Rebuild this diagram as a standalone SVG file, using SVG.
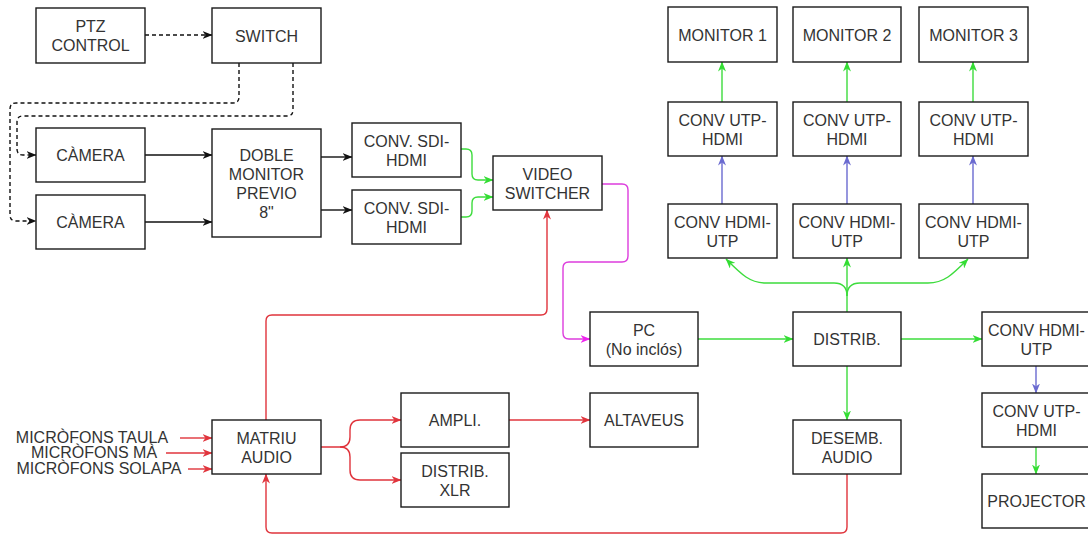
<svg xmlns="http://www.w3.org/2000/svg" width="1088" height="535" viewBox="0 0 1088 535">
<defs>
<style>
.box{fill:#fff;stroke:#1a1a1a;stroke-width:1.4}
.t{font-family:"Liberation Sans",Arial,sans-serif;font-size:16px;fill:#333;text-anchor:middle}
.e{fill:none;stroke-width:1.4}
.k{stroke:#111}
.d{stroke:#111;stroke-dasharray:4 3}
.r{stroke:#e0343c}
.g{stroke:#3ddc3d}
.b{stroke:#6a6ad0}
.m{stroke:#dd3ddd}
</style>
<marker id="ak" viewBox="0 0 10 8" markerWidth="10" markerHeight="8" refX="9.5" refY="4" orient="auto" markerUnits="userSpaceOnUse"><path d="M0,0 L10,4 L0,8 L3,4 z" fill="#111"/></marker>
<marker id="ar" viewBox="0 0 10 8" markerWidth="10" markerHeight="8" refX="9.5" refY="4" orient="auto" markerUnits="userSpaceOnUse"><path d="M0,0 L10,4 L0,8 L3,4 z" fill="#e0343c"/></marker>
<marker id="ag" viewBox="0 0 10 8" markerWidth="10" markerHeight="8" refX="9.5" refY="4" orient="auto" markerUnits="userSpaceOnUse"><path d="M0,0 L10,4 L0,8 L3,4 z" fill="#33dd33"/></marker>
<marker id="ab" viewBox="0 0 10 8" markerWidth="10" markerHeight="8" refX="9.5" refY="4" orient="auto" markerUnits="userSpaceOnUse"><path d="M0,0 L10,4 L0,8 L3,4 z" fill="#6a6ad0"/></marker>
<marker id="am" viewBox="0 0 10 8" markerWidth="10" markerHeight="8" refX="9.5" refY="4" orient="auto" markerUnits="userSpaceOnUse"><path d="M0,0 L10,4 L0,8 L3,4 z" fill="#ee22ee"/></marker>
</defs>
<rect width="1088" height="535" fill="#fff"/>

<g id="connectors">
<path class="e d" d="M145,35 H212" marker-end="url(#ak)"/>
<path class="e d" d="M239,63 V97 Q239,103 233,103 H16 Q10,103 10,109 V215 Q10,221 16,221 H36" marker-end="url(#ak)"/>
<path class="e d" d="M293,63 V110 Q293,116 287,116 H23 Q17,116 17,122 V149 Q17,155 23,155 H36" marker-end="url(#ak)"/>
<path class="e k" d="M145,155 H212" marker-end="url(#ak)"/>
<path class="e k" d="M145,222 H212" marker-end="url(#ak)"/>
<path class="e k" d="M321,157 H352" marker-end="url(#ak)"/>
<path class="e k" d="M321,210 H352" marker-end="url(#ak)"/>
<path class="e g" d="M461,149 H466 Q472,149 472,155 V174 Q472,180 478,180 H493" marker-end="url(#ag)"/>
<path class="e g" d="M461,217 H466 Q472,217 472,211 V203 Q472,197 478,197 H493" marker-end="url(#ag)"/>
<path class="e m" d="M602,184 H622 Q628,184 628,190 V256 Q628,262 622,262 H569 Q563,262 563,268 V333 Q563,339 569,339 H590" marker-end="url(#am)"/>
<path class="e g" d="M698,339 H793" marker-end="url(#ag)"/>
<path class="e g" d="M901,339 H982" marker-end="url(#ag)"/>
<path class="e g" d="M847,366 V420" marker-end="url(#ag)"/>
<path class="e g" d="M847,312 V258" marker-end="url(#ag)"/>
<path class="e g" d="M847,296 Q847,283 834,283 H766 C750,283 742,275 726,259" marker-end="url(#ag)"/>
<path class="e g" d="M847,296 Q847,283 860,283 H928 C944,283 952,275 968,259" marker-end="url(#ag)"/>
<path class="e b" d="M722,204 V156" marker-end="url(#ab)"/>
<path class="e b" d="M847,204 V156" marker-end="url(#ab)"/>
<path class="e b" d="M973,204 V156" marker-end="url(#ab)"/>
<path class="e g" d="M722,102 V62" marker-end="url(#ag)"/>
<path class="e g" d="M847,102 V62" marker-end="url(#ag)"/>
<path class="e g" d="M973,102 V62" marker-end="url(#ag)"/>
<path class="e b" d="M1036,366 V393" marker-end="url(#ab)"/>
<path class="e g" d="M1036,447 V474" marker-end="url(#ag)"/>
<path class="e r" d="M266,420 V321 Q266,315 272,315 H541 Q547,315 547,309 V210" marker-end="url(#ar)"/>
<path class="e r" d="M180,438 H212" marker-end="url(#ar)"/>
<path class="e r" d="M166,453 H212" marker-end="url(#ar)"/>
<path class="e r" d="M188,469 H212" marker-end="url(#ar)"/>
<path class="e r" d="M321,447 H340 Q350,447 350,437 V430 Q350,420 360,420 H401" marker-end="url(#ar)"/>
<path class="e r" d="M340,447 Q350,447 350,457 V470 Q350,480 360,480 H401" marker-end="url(#ar)"/>
<path class="e r" d="M509,420 H590" marker-end="url(#ar)"/>
<path class="e r" d="M847,474 V527 Q847,533 841,533 H272 Q266,533 266,527 V474" marker-end="url(#ar)"/>
</g>

<g id="mics">
<text class="t" x="92" y="443">MICRÒFONS TAULA</text>
<text class="t" x="94" y="458">MICRÒFONS MÀ</text>
<text class="t" x="99" y="474">MICRÒFONS SOLAPA</text>
</g>

<g id="ptz"><rect class="box" x="36" y="8" width="109" height="55"/><text class="t" x="90.5" y="32">PTZ</text><text class="t" x="90.5" y="51">CONTROL</text></g>
<g id="switch"><rect class="box" x="212" y="8" width="109" height="55"/><text class="t" x="266.5" y="41.5">SWITCH</text></g>
<g id="camera1"><rect class="box" x="36" y="128" width="109" height="54"/><text class="t" x="90.5" y="161">CÀMERA</text></g>
<g id="camera2"><rect class="box" x="36" y="195" width="109" height="54"/><text class="t" x="90.5" y="228">CÀMERA</text></g>
<g id="doble"><rect class="box" x="212" y="129" width="109" height="108"/><text class="t" x="266.5" y="161">DOBLE</text><text class="t" x="266.5" y="180">MONITOR</text><text class="t" x="266.5" y="199">PREVIO</text><text class="t" x="266.5" y="218">8"</text></g>
<g id="sdi1"><rect class="box" x="352" y="123" width="109" height="54"/><text class="t" x="406.5" y="146.5">CONV. SDI-</text><text class="t" x="406.5" y="165.5">HDMI</text></g>
<g id="sdi2"><rect class="box" x="352" y="190" width="109" height="54"/><text class="t" x="406.5" y="213.5">CONV. SDI-</text><text class="t" x="406.5" y="232.5">HDMI</text></g>
<g id="videoswitcher"><rect class="box" x="493" y="156" width="109" height="54"/><text class="t" x="547.5" y="179.5">VIDEO</text><text class="t" x="547.5" y="198.5">SWITCHER</text></g>
<g id="monitor1"><rect class="box" x="668" y="7" width="109" height="55"/><text class="t" x="722.5" y="40.5">MONITOR 1</text></g>
<g id="monitor2"><rect class="box" x="793" y="7" width="108" height="55"/><text class="t" x="847" y="40.5">MONITOR 2</text></g>
<g id="monitor3"><rect class="box" x="919" y="7" width="109" height="55"/><text class="t" x="973.5" y="40.5">MONITOR 3</text></g>
<g id="utphdmi1"><rect class="box" x="668" y="102" width="109" height="54"/><text class="t" x="722.5" y="125.5">CONV UTP-</text><text class="t" x="722.5" y="144.5">HDMI</text></g>
<g id="utphdmi2"><rect class="box" x="793" y="102" width="108" height="54"/><text class="t" x="847" y="125.5">CONV UTP-</text><text class="t" x="847" y="144.5">HDMI</text></g>
<g id="utphdmi3"><rect class="box" x="919" y="102" width="109" height="54"/><text class="t" x="973.5" y="125.5">CONV UTP-</text><text class="t" x="973.5" y="144.5">HDMI</text></g>
<g id="hdmiutp1"><rect class="box" x="668" y="204" width="109" height="54"/><text class="t" x="722.5" y="227.5">CONV HDMI-</text><text class="t" x="722.5" y="246.5">UTP</text></g>
<g id="hdmiutp2"><rect class="box" x="793" y="204" width="108" height="54"/><text class="t" x="847" y="227.5">CONV HDMI-</text><text class="t" x="847" y="246.5">UTP</text></g>
<g id="hdmiutp3"><rect class="box" x="919" y="204" width="109" height="54"/><text class="t" x="973.5" y="227.5">CONV HDMI-</text><text class="t" x="973.5" y="246.5">UTP</text></g>
<g id="pc"><rect class="box" x="590" y="312" width="108" height="54"/><text class="t" x="644" y="335.5">PC</text><text class="t" x="644" y="354.5">(No inclós)</text></g>
<g id="distrib"><rect class="box" x="793" y="312" width="108" height="54"/><text class="t" x="847" y="345">DISTRIB.</text></g>
<g id="hdmiutp4"><rect class="box" x="982" y="312" width="109" height="54"/><text class="t" x="1036.5" y="335.5">CONV HDMI-</text><text class="t" x="1036.5" y="354.5">UTP</text></g>
<g id="utphdmi4"><rect class="box" x="982" y="393" width="109" height="54"/><text class="t" x="1036.5" y="416.5">CONV UTP-</text><text class="t" x="1036.5" y="435.5">HDMI</text></g>
<g id="projector"><rect class="box" x="982" y="474" width="109" height="54"/><text class="t" x="1036.5" y="507">PROJECTOR</text></g>
<g id="altaveus"><rect class="box" x="590" y="393" width="108" height="54"/><text class="t" x="644" y="426">ALTAVEUS</text></g>
<g id="desemb"><rect class="box" x="793" y="420" width="108" height="54"/><text class="t" x="847" y="443.5">DESEMB.</text><text class="t" x="847" y="462.5">AUDIO</text></g>
<g id="matriu"><rect class="box" x="212" y="420" width="109" height="54"/><text class="t" x="266.5" y="443.5">MATRIU</text><text class="t" x="266.5" y="462.5">AUDIO</text></g>
<g id="ampli"><rect class="box" x="401" y="393" width="108" height="54"/><text class="t" x="455" y="426">AMPLI.</text></g>
<g id="distribxlr"><rect class="box" x="401" y="453" width="108" height="54"/><text class="t" x="455" y="476.5">DISTRIB.</text><text class="t" x="455" y="495.5">XLR</text></g>
</svg>
